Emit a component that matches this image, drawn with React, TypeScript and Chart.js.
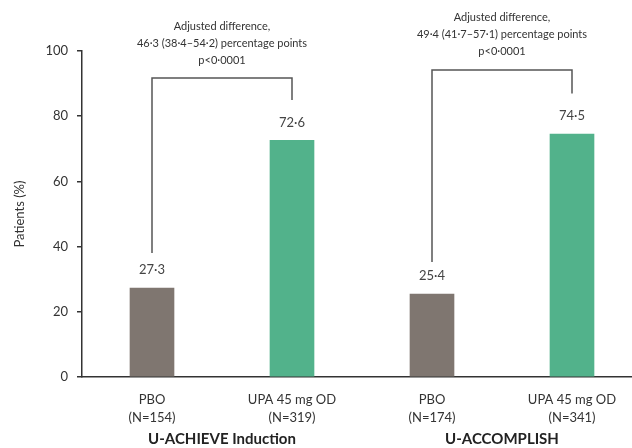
import React, { useEffect, useRef } from "react";
import { Chart, registerables } from "chart.js";

Chart.register(...registerables);

const groups = ["U-ACHIEVE Induction", "U-ACCOMPLISH"];
const armLabels = [
  ["PBO", "(N=154)"],
  ["UPA 45 mg OD", "(N=319)"],
  ["PBO", "(N=174)"],
  ["UPA 45 mg OD", "(N=341)"],
];
const values = [27.3, 72.6, 25.4, 74.5];
const valueLabels = ["27·3", "72·6", "25·4", "74·5"];
const barColors = ["#7f7670", "#52b28b", "#7f7670", "#52b28b"];
const annotations = [
  ["Adjusted difference,", "46·3 (38·4–54·2) percentage points", "p<0·0001"],
  ["Adjusted difference,", "49·4 (41·7–57·1) percentage points", "p<0·0001"],
];
const bracketTop = [91.7, 94.2];
const bracketLeftEnd = [38, 35.3];
const bracketRightEnd = [85, 87];
const yTicks = [0, 20, 40, 60, 80, 100];

const FONT = "Lato, 'Open Sans', sans-serif";

const overlay = {
  id: "overlay",
  afterDraw(chart: any) {
    const { ctx, scales, chartArea } = chart;
    const ys = scales.y;
    const meta = chart.getDatasetMeta(0);
    ctx.save();
    // value labels
    ctx.font = `13px ${FONT}`;
    ctx.fillStyle = "#444";
    ctx.textAlign = "center";
    ctx.textBaseline = "middle";
    meta.data.forEach((bar: any, i: number) => {
      ctx.fillText(valueLabels[i], bar.x, ys.getPixelForValue(values[i]) - 18);
    });
    // brackets
    ctx.strokeStyle = "#555";
    ctx.lineWidth = 1.5;
    groups.forEach((g, gi) => {
      const xl = meta.data[gi * 2].x;
      const xr = meta.data[gi * 2 + 1].x;
      const yt = ys.getPixelForValue(bracketTop[gi]);
      ctx.beginPath();
      ctx.moveTo(xl, ys.getPixelForValue(bracketLeftEnd[gi]));
      ctx.lineTo(xl, yt);
      ctx.lineTo(xr, yt);
      ctx.lineTo(xr, ys.getPixelForValue(bracketRightEnd[gi]));
      ctx.stroke();
      const cx = (xl + xr) / 2;
      ctx.font = `11px ${FONT}`;
      ctx.fillStyle = "#333";
      annotations[gi].forEach((line, li) => {
        ctx.fillText(line, cx, yt - 52 + li * 17);
      });
      ctx.font = `bold 15px ${FONT}`;
      ctx.fillStyle = "#222";
      ctx.fillText(g, cx, chartArea.bottom + 62);
    });
    // y title
    ctx.font = `13px ${FONT}`;
    ctx.fillStyle = "#333";
    ctx.translate(20, (chartArea.top + chartArea.bottom) / 2);
    ctx.rotate(-Math.PI / 2);
    ctx.fillText("Patients (%)", 0, 0);
    ctx.restore();
  },
};

export default function App() {
  const ref = useRef<HTMLCanvasElement>(null);
  useEffect(() => {
    if (!ref.current) return;
    const chart = new Chart(ref.current, {
      type: "bar",
      data: {
        labels: armLabels as any,
        datasets: [
          {
            data: values,
            backgroundColor: barColors,
            barThickness: 44,
          },
        ],
      },
      options: {
        responsive: false,
        animation: false,
        layout: { padding: { top: 51, right: 0, left: 0, bottom: 0 } },
        plugins: { legend: { display: false }, tooltip: { enabled: false } },
        scales: {
          x: {
            grid: { display: false, drawTicks: false },
            border: { display: true, color: "#333", width: 1.5 },
            ticks: {
              padding: 14,
              color: "#333",
              font: { family: FONT, size: 13, lineHeight: 1.4 },
              maxRotation: 0,
              autoSkip: false,
            },
            afterFit(s: any) {
              s.height = 71;
            },
          },
          y: {
            min: 0,
            max: 100,
            afterBuildTicks(s: any) {
              s.ticks = yTicks.map((v) => ({ value: v }));
            },
            grid: { drawOnChartArea: false, drawTicks: true, tickLength: 5, color: "#333", lineWidth: 1.5 },
            border: { display: true, color: "#333", width: 1.5 },
            ticks: {
              padding: 9,
              color: "#333",
              font: { family: FONT, size: 13 },
            },
            afterFit(s: any) {
              s.width = 82;
            },
          },
        },
      },
      plugins: [overlay],
    });
    return () => chart.destroy();
  }, []);
  return (
    <div style={{ position: "fixed", left: 0, top: 0, width: 632, height: 448, overflow: "hidden", background: "#fff" }}>
      <canvas ref={ref} width={642} height={448} style={{ display: "block" }} />
    </div>
  );
}
